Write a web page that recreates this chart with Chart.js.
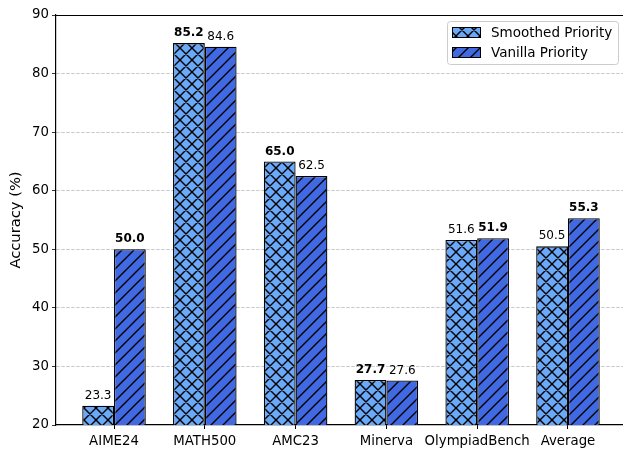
<!DOCTYPE html>
<html>
<head>
<meta charset="utf-8">
<script src="https://cdn.jsdelivr.net/npm/chart.js@4.4.1/dist/chart.umd.min.js"></script>
<style>
  html, body { margin: 0; padding: 0; background: #ffffff; }
  #wrap { width: 623px; height: 452px; }
</style>
</head>
<body>
<div id="wrap"><canvas id="c" width="623" height="452"></canvas></div>
<script>
// Benchmarks and accuracy (%) for the two priority schemes
const categories = ['AIME24', 'MATH500', 'AMC23', 'Minerva', 'OlympiadBench', 'Average'];
const smoothedPriority = [23.3, 85.2, 65.0, 27.7, 51.6, 50.5];
const vanillaPriority = [50.0, 84.6, 62.5, 27.6, 51.9, 55.3];
const seriesNames = ['Smoothed Priority', 'Vanilla Priority'];
const yTickValues = [20, 30, 40, 50, 60, 70, 80, 90];

const FONT = '"DejaVu Sans", "Liberation Sans", sans-serif';

// Hatched fill: '/' lines, optionally crossed with '\' lines
function hatchPattern(base, cross) {
  const s = 12;
  const cv = document.createElement('canvas');
  cv.width = s; cv.height = s;
  const g = cv.getContext('2d');
  g.fillStyle = base;
  g.fillRect(0, 0, s, s);
  g.strokeStyle = '#000';
  g.lineWidth = 1.4;
  g.beginPath();
  g.moveTo(0, s); g.lineTo(s, 0);
  g.moveTo(-1, 1); g.lineTo(1, -1);
  g.moveTo(s - 1, s + 1); g.lineTo(s + 1, s - 1);
  if (cross) {
    g.moveTo(0, 0); g.lineTo(s, s);
    g.moveTo(-1, s - 1); g.lineTo(1, s + 1);
    g.moveTo(s - 1, -1); g.lineTo(s + 1, 1);
  }
  g.stroke();
  return g.createPattern(cv, 'repeat');
}

const ctx = document.getElementById('c').getContext('2d');
const smoothFill = hatchPattern('#6aa8f8', true);
const vanillaFill = hatchPattern('#4169e1', false);

const toPoints = arr => arr.map((v, i) => ({ x: i, y: v }));

// Value labels above each bar; the higher value of each pair is bold
const valueLabels = {
  id: 'valueLabels',
  afterDatasetsDraw(chart) {
    const c = chart.ctx;
    c.save();
    c.fillStyle = '#000';
    c.textAlign = 'center';
    c.textBaseline = 'bottom';
    const all = [smoothedPriority, vanillaPriority];
    chart.data.datasets.forEach((ds, di) => {
      const meta = chart.getDatasetMeta(di);
      meta.data.forEach((bar, i) => {
        const v = all[di][i];
        const other = all[1 - di][i];
        const bold = v > other;
        c.font = (bold ? 'bold ' : '') + '12px ' + FONT;
        c.fillText(v.toFixed(1), bar.x, bar.y - 4);
      });
    });
    c.restore();
  }
};

// Top spine and boxed legend in the upper right corner
const frameAndLegend = {
  id: 'frameAndLegend',
  afterDraw(chart) {
    const c = chart.ctx;
    const a = chart.chartArea;
    c.save();
    c.strokeStyle = '#000';
    c.lineWidth = 1.2;
    c.beginPath();
    c.moveTo(a.left, a.top + 0.5);
    c.lineTo(a.right + 2, a.top + 0.5);
    c.stroke();

    // legend box
    const bx = 447.5, by = 21.5, bw = 171, bh = 43, r = 3;
    c.beginPath();
    c.moveTo(bx + r, by);
    c.lineTo(bx + bw - r, by);
    c.quadraticCurveTo(bx + bw, by, bx + bw, by + r);
    c.lineTo(bx + bw, by + bh - r);
    c.quadraticCurveTo(bx + bw, by + bh, bx + bw - r, by + bh);
    c.lineTo(bx + r, by + bh);
    c.quadraticCurveTo(bx, by + bh, bx, by + bh - r);
    c.lineTo(bx, by + r);
    c.quadraticCurveTo(bx, by, bx + r, by);
    c.closePath();
    c.fillStyle = 'rgba(255,255,255,0.8)';
    c.fill();
    c.strokeStyle = '#cccccc';
    c.lineWidth = 1;
    c.stroke();

    const fills = [smoothFill, vanillaFill];
    c.font = '13.5px ' + FONT;
    c.textAlign = 'left';
    c.textBaseline = 'middle';
    seriesNames.forEach((name, i) => {
      const cy = 32 + i * 20;
      c.fillStyle = fills[i];
      c.fillRect(452, cy - 5, 28, 10);
      c.strokeStyle = '#000';
      c.lineWidth = 1;
      c.strokeRect(452.5, cy - 4.5, 28, 10);
      c.fillStyle = '#000';
      c.fillText(name, 491, cy + 1);
    });
    c.restore();
  }
};

new Chart(ctx, {
  type: 'bar',
  data: {
    datasets: [
      {
        label: seriesNames[0],
        data: toPoints(smoothedPriority),
        backgroundColor: smoothFill,
        borderColor: '#000',
        borderWidth: 1.3,
        borderSkipped: false
      },
      {
        label: seriesNames[1],
        data: toPoints(vanillaPriority),
        backgroundColor: vanillaFill,
        borderColor: '#000',
        borderWidth: 1.3,
        borderSkipped: false
      }
    ]
  },
  options: {
    responsive: false,
    animation: false,
    devicePixelRatio: 1,
    layout: { padding: { top: 15, right: 0, left: 0, bottom: 0 } },
    datasets: { bar: { categoryPercentage: 0.7, barPercentage: 1.0 } },
    plugins: {
      legend: { display: false },
      tooltip: { enabled: false }
    },
    scales: {
      x: {
        type: 'linear',
        min: -0.639,
        max: 5.606,
        offset: false,
        afterBuildTicks(scale) {
          scale.ticks = categories.map((_, i) => ({ value: i }));
        },
        afterFit(scale) { scale.height = 27; },
        ticks: {
          callback: v => categories[v] ?? '',
          color: '#000',
          font: { family: FONT, size: 13.3 },
          padding: 5,
          maxRotation: 0,
          autoSkip: false
        },
        grid: {
          drawOnChartArea: false,
          drawTicks: true,
          tickLength: 4,
          tickColor: '#000',
          offset: false
        },
        border: { color: '#000', width: 1.2 }
      },
      y: {
        min: 20,
        max: 90,
        afterBuildTicks(scale) {
          scale.ticks = yTickValues.map(v => ({ value: v }));
        },
        afterFit(scale) { scale.width = 56; },
        ticks: {
          color: '#000',
          font: { family: FONT, size: 13.3 },
          padding: 3
        },
        grid: {
          color: ctx2 => (ctx2.tick && (ctx2.tick.value === 20 || ctx2.tick.value === 90)) ? 'rgba(0,0,0,0)' : 'rgba(176,176,176,0.85)',
          lineWidth: 0.8,
          tickColor: '#000',
          tickBorderDash: [],
          tickLength: 4,
          drawTicks: true
        },
        border: { color: '#000', width: 1.2, dash: [3.5, 1.5] },
        title: {
          display: true,
          text: 'Accuracy (%)',
          color: '#000',
          font: { family: FONT, size: 14.7 },
          padding: { top: 7, bottom: 0 }
        }
      }
    }
  },
  plugins: [valueLabels, frameAndLegend]
});
</script>
</body>
</html>
